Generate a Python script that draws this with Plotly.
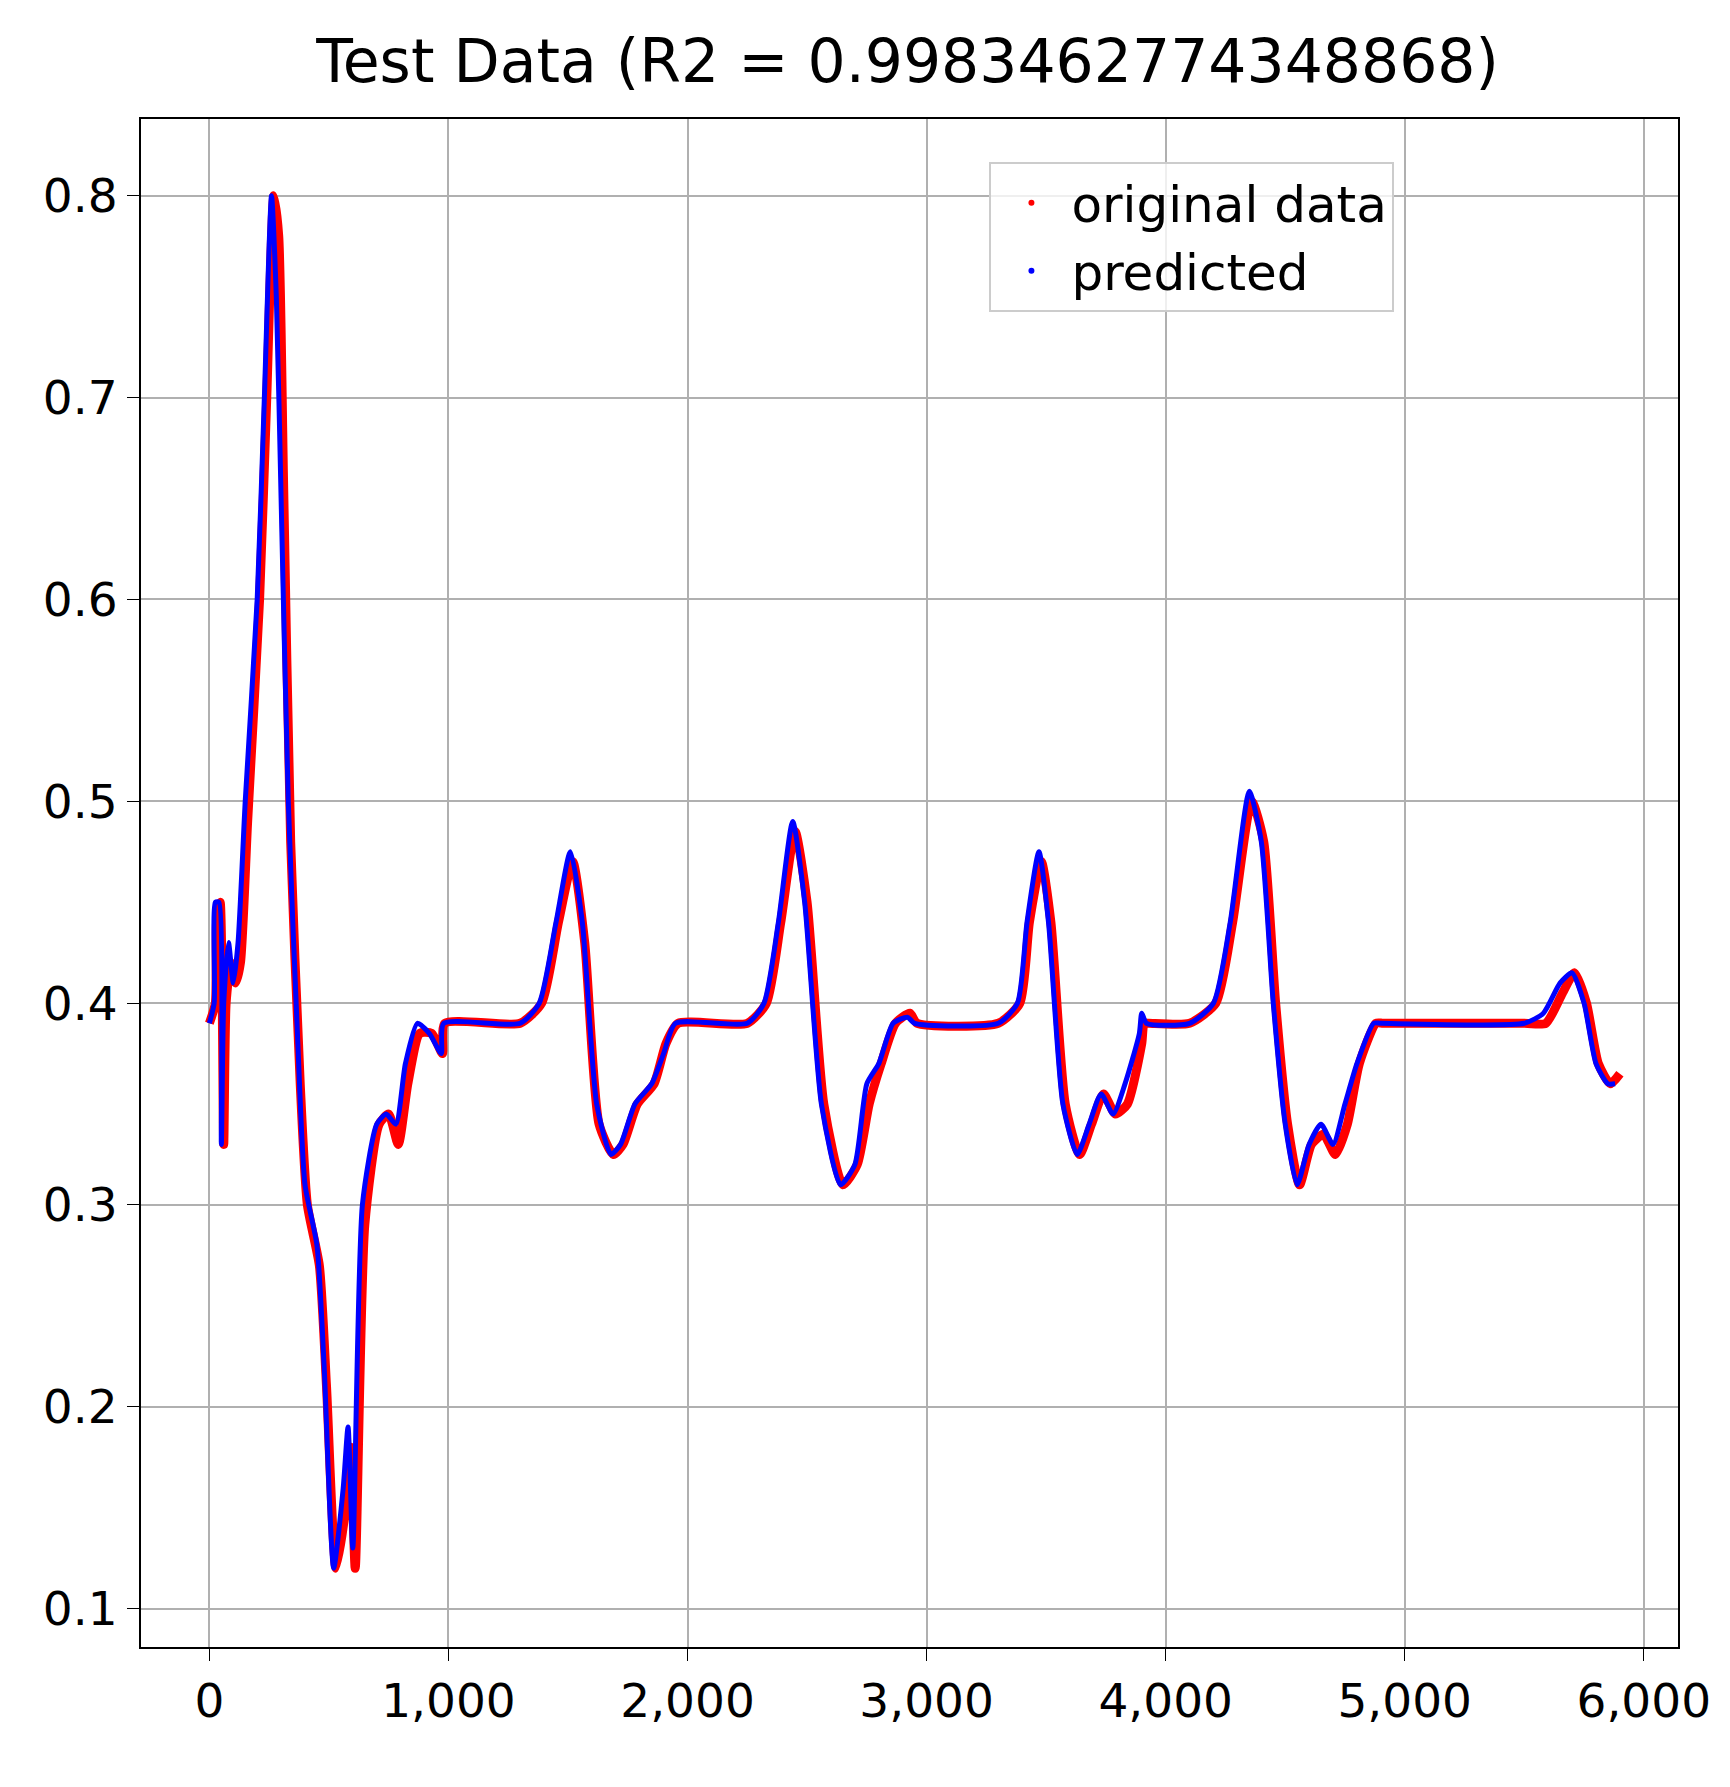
import plotly.graph_objects as go

# predicted curve, key points
pred_x = [0, 20, 25, 40, 50, 60, 80, 100, 120, 150, 200, 230, 260, 280, 300, 330, 370, 400, 450, 480, 520, 560, 580, 600, 640, 700, 740, 780, 820, 870, 920, 970, 980,
          1300, 1380, 1450, 1510, 1560, 1620, 1680, 1720, 1780, 1850, 1900, 1950,
          2250, 2320, 2380, 2440, 2490, 2560, 2640, 2700, 2750, 2800, 2860, 2920, 2950,
          3300, 3380, 3420, 3470, 3510, 3570, 3630, 3680, 3730, 3780, 3830, 3890, 3900, 3920,
          4100, 4200, 4270, 4350, 4400, 4450, 4500, 4550, 4600, 4650, 4700, 4750, 4800, 4870, 4900,
          5500, 5580, 5650, 5700, 5750, 5800, 5850, 5880]
pred_y = [0.39, 0.40, 0.45, 0.45, 0.33, 0.40, 0.43, 0.41, 0.43, 0.50, 0.60, 0.70, 0.80, 0.75, 0.65, 0.50, 0.38, 0.31, 0.28, 0.22, 0.12, 0.16, 0.19, 0.13, 0.30, 0.34, 0.345, 0.34, 0.37, 0.39, 0.385, 0.375, 0.39,
          0.39, 0.40, 0.44, 0.475, 0.44, 0.35, 0.325, 0.33, 0.35, 0.36, 0.375, 0.39,
          0.39, 0.40, 0.44, 0.49, 0.45, 0.35, 0.31, 0.32, 0.36, 0.37, 0.39, 0.393, 0.39,
          0.39, 0.40, 0.44, 0.475, 0.44, 0.35, 0.325, 0.34, 0.355, 0.345, 0.36, 0.385, 0.395, 0.39,
          0.39, 0.40, 0.44, 0.505, 0.48, 0.40, 0.34, 0.31, 0.33, 0.34, 0.33, 0.35, 0.37, 0.39, 0.39,
          0.39, 0.395, 0.41, 0.415, 0.40, 0.37, 0.36, 0.36]

# original data, slightly lagging the prediction
orig_x = [0, 25, 30, 45, 60, 70, 90, 110, 130, 160, 210, 240, 270, 290, 310, 340, 380, 410, 460, 490, 530, 570, 590, 610, 650, 710, 750, 790, 830, 880, 930, 975, 985,
          1300, 1390, 1460, 1520, 1570, 1630, 1690, 1730, 1790, 1860, 1910, 1960,
          2250, 2330, 2390, 2450, 2500, 2570, 2650, 2710, 2760, 2810, 2870, 2930, 2960,
          3300, 3390, 3430, 3480, 3520, 3580, 3640, 3690, 3740, 3790, 3840, 3900, 3910, 3930,
          4100, 4210, 4280, 4360, 4410, 4460, 4510, 4560, 4610, 4660, 4710, 4760, 4810, 4880, 4910,
          5500, 5590, 5660, 5710, 5760, 5810, 5860, 5900]
orig_y = [0.39, 0.40, 0.44, 0.45, 0.33, 0.40, 0.42, 0.41, 0.42, 0.49, 0.60, 0.70, 0.80, 0.78, 0.66, 0.48, 0.36, 0.30, 0.27, 0.21, 0.12, 0.15, 0.18, 0.12, 0.29, 0.34, 0.345, 0.33, 0.36, 0.385, 0.385, 0.375, 0.39,
          0.39, 0.40, 0.44, 0.47, 0.43, 0.34, 0.325, 0.33, 0.35, 0.36, 0.38, 0.39,
          0.39, 0.40, 0.44, 0.485, 0.45, 0.35, 0.31, 0.32, 0.35, 0.37, 0.39, 0.395, 0.39,
          0.39, 0.40, 0.44, 0.47, 0.44, 0.35, 0.325, 0.34, 0.355, 0.345, 0.35, 0.38, 0.39, 0.39,
          0.39, 0.40, 0.44, 0.50, 0.48, 0.40, 0.34, 0.31, 0.33, 0.335, 0.325, 0.34, 0.37, 0.39, 0.39,
          0.39, 0.39, 0.405, 0.415, 0.40, 0.37, 0.36, 0.365]

fig = go.Figure()
fig.add_trace(go.Scatter(x=orig_x, y=orig_y, mode="lines", showlegend=False,
                         line=dict(color="red", width=9, shape="spline", smoothing=0.6)))
fig.add_trace(go.Scatter(x=pred_x, y=pred_y, mode="lines", showlegend=False,
                         line=dict(color="blue", width=5, shape="spline", smoothing=0.6)))
# legend entries shown as small dots, like the scatter markers
fig.add_trace(go.Scatter(x=[None], y=[None], mode="markers", name="original data",
                         marker=dict(color="red", size=6)))
fig.add_trace(go.Scatter(x=[None], y=[None], mode="markers", name="predicted",
                         marker=dict(color="blue", size=6)))

axis = dict(showgrid=True, gridcolor="#b0b0b0", gridwidth=2, showline=True, linecolor="black",
            linewidth=2, mirror=True, ticks="outside", ticklen=12, tickcolor="black",
            zeroline=False, tickfont=dict(size=47, color="black"))
fig.update_layout(
    width=1730, height=1787, plot_bgcolor="white", paper_bgcolor="white",
    font=dict(family="DejaVu Sans"),
    title=dict(text="Test Data (R2 = 0.9983462774348868)", x=0.52, y=0.982, yanchor="top",
               xanchor="center", font=dict(size=60, color="black")),
    margin=dict(l=133, r=60, t=111, b=148),
    xaxis=dict(axis, range=[-286, 6143], tickvals=[0, 1000, 2000, 3000, 4000, 5000, 6000],
               ticktext=["0", "1,000", "2,000", "3,000", "4,000", "5,000", "6,000"]),
    yaxis=dict(axis, range=[0.081, 0.838], tickvals=[0.1, 0.2, 0.3, 0.4, 0.5, 0.6, 0.7, 0.8],
               ticktext=["0.1", "0.2", "0.3", "0.4", "0.5", "0.6", "0.7", "0.8"]),
    legend=dict(x=0.552, y=0.972, xanchor="left", yanchor="top", bgcolor="rgba(255,255,255,0.8)",
                bordercolor="#cccccc", borderwidth=2, font=dict(size=50, color="black"),
                itemwidth=70, tracegroupgap=14),
)
fig.write_html("out.html")
